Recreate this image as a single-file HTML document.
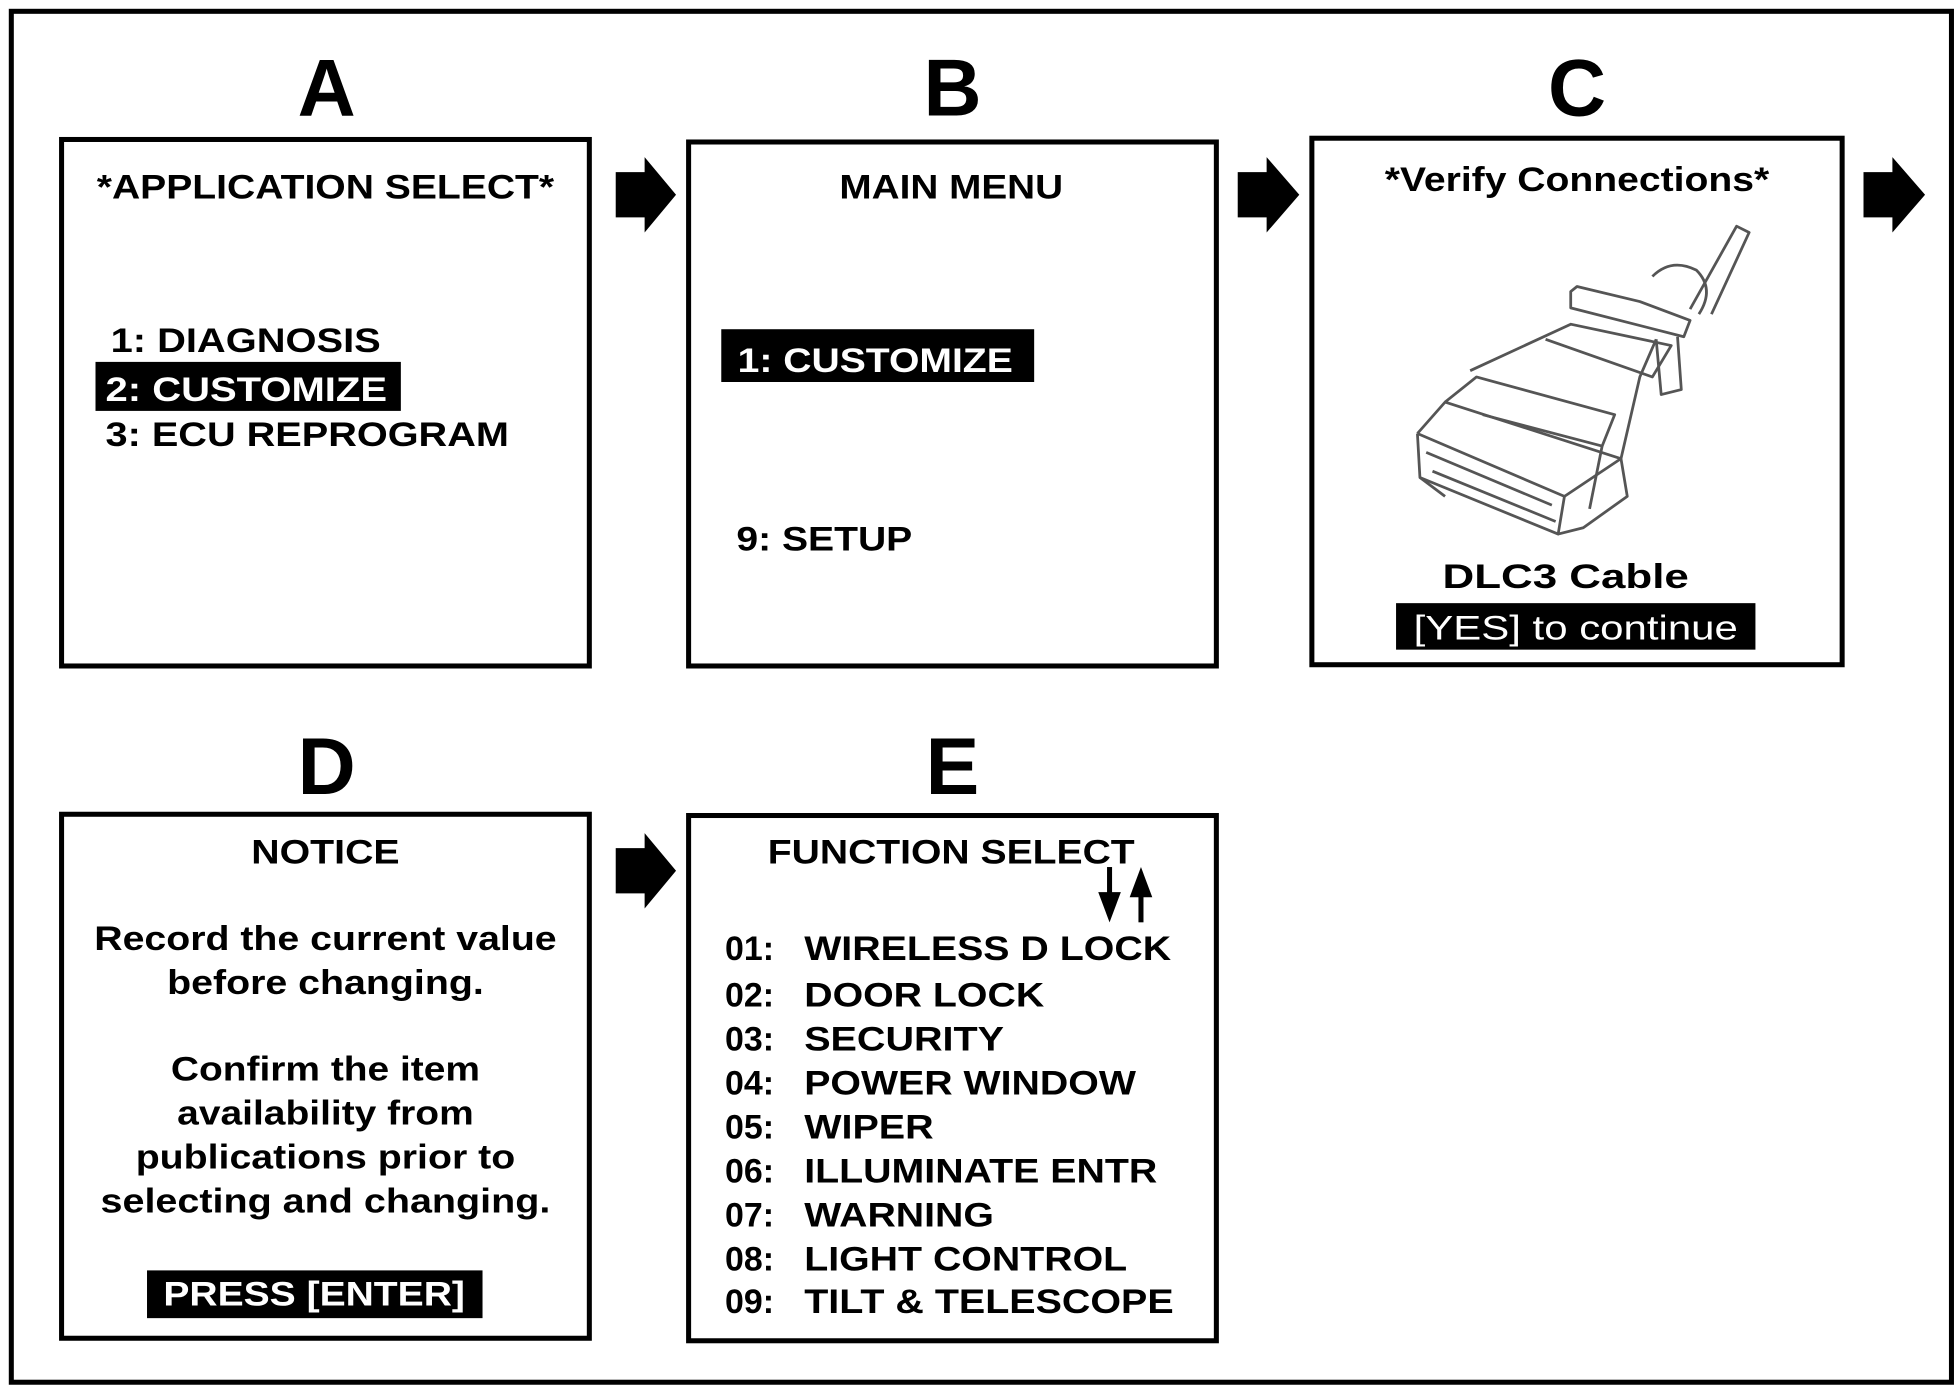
<!DOCTYPE html>
<html><head><meta charset="utf-8"><style>
html,body{margin:0;padding:0;background:#fff}
svg{display:block}
text{font-family:"Liberation Sans",Arial,sans-serif;font-weight:bold;fill:#000}
</style></head><body>
<svg width="1959" height="1386" viewBox="0 0 1559 1103" preserveAspectRatio="none" xmlns="http://www.w3.org/2000/svg">
<rect x="0" y="0" width="1559" height="1103" fill="#fff"/>
<rect x="9" y="9" width="1544" height="1091" fill="none" stroke="#000" stroke-width="4"/>
<g font-size="64">
<text x="260" y="92" text-anchor="middle">A</text>
<text x="758" y="92" text-anchor="middle">B</text>
<text x="1255" y="92" text-anchor="middle">C</text>
<text x="260" y="632" text-anchor="middle">D</text>
<text x="758" y="632" text-anchor="middle">E</text>
</g>
<g fill="none" stroke="#000" stroke-width="4">
<rect x="49" y="111" width="420" height="419"/>
<rect x="548" y="113" width="420" height="417"/>
<rect x="1044" y="110" width="422" height="419"/>
<rect x="49" y="648" width="420" height="417"/>
<rect x="548" y="649" width="420" height="418"/>
</g>
<g fill="#000">
<polygon points="490,137 513,137 513,125 538,155 513,185 513,173 490,173"/>
<polygon points="985,137 1008,137 1008,125 1034,155 1008,185 1008,173 985,173"/>
<polygon points="1483,137 1506,137 1506,125 1532,155 1506,185 1506,173 1483,173"/>
<polygon points="490,675 513,675 513,663 538,693 513,723 513,711 490,711"/>
</g>
<g font-size="27">
<text x="259" y="158" text-anchor="middle" textLength="364" lengthAdjust="spacingAndGlyphs">*APPLICATION SELECT*</text>
<text x="88" y="280" textLength="215" lengthAdjust="spacingAndGlyphs">1:  DIAGNOSIS</text>
<rect x="76" y="288" width="243" height="39" fill="#000"/>
<text x="84" y="319" fill="#fff" style="fill:#fff" textLength="224" lengthAdjust="spacingAndGlyphs">2:  CUSTOMIZE</text>
<text x="84" y="355" textLength="321" lengthAdjust="spacingAndGlyphs">3:  ECU REPROGRAM</text>

<text x="757" y="158" text-anchor="middle" textLength="178" lengthAdjust="spacingAndGlyphs">MAIN MENU</text>
<rect x="574" y="262" width="249" height="42" fill="#000"/>
<text x="587" y="296" style="fill:#fff" textLength="219" lengthAdjust="spacingAndGlyphs">1: CUSTOMIZE</text>
<text x="586" y="438" textLength="140" lengthAdjust="spacingAndGlyphs">9: SETUP</text>

<text x="1255" y="152" text-anchor="middle" textLength="306" lengthAdjust="spacingAndGlyphs">*Verify Connections*</text>
<text x="1246" y="468" text-anchor="middle" textLength="196" lengthAdjust="spacingAndGlyphs">DLC3 Cable</text>
<rect x="1111" y="480" width="286" height="37" fill="#000"/>
<text x="1254" y="509" text-anchor="middle" style="fill:#fff;font-weight:normal" textLength="258" lengthAdjust="spacingAndGlyphs">[YES] to continue</text>

<text x="259" y="687" text-anchor="middle" textLength="118" lengthAdjust="spacingAndGlyphs">NOTICE</text>
<text x="259" y="756" text-anchor="middle" textLength="368" lengthAdjust="spacingAndGlyphs">Record the current value</text>
<text x="259" y="791" text-anchor="middle" textLength="252" lengthAdjust="spacingAndGlyphs">before changing.</text>
<text x="259" y="860" text-anchor="middle" textLength="246" lengthAdjust="spacingAndGlyphs">Confirm the item</text>
<text x="259" y="895" text-anchor="middle" textLength="236" lengthAdjust="spacingAndGlyphs">availability from</text>
<text x="259" y="930" text-anchor="middle" textLength="302" lengthAdjust="spacingAndGlyphs">publications prior to</text>
<text x="259" y="965" text-anchor="middle" textLength="358" lengthAdjust="spacingAndGlyphs">selecting and changing.</text>
<rect x="117" y="1011" width="267" height="38" fill="#000"/>
<text x="250" y="1039" text-anchor="middle" style="fill:#fff" textLength="240" lengthAdjust="spacingAndGlyphs">PRESS [ENTER]</text>

<text x="757" y="687" text-anchor="middle" textLength="292" lengthAdjust="spacingAndGlyphs">FUNCTION SELECT</text>
<g>
<text x="577" y="764">01:</text><text x="640" y="764" textLength="292" lengthAdjust="spacingAndGlyphs">WIRELESS D LOCK</text>
<text x="577" y="801">02:</text><text x="640" y="801" textLength="191" lengthAdjust="spacingAndGlyphs">DOOR LOCK</text>
<text x="577" y="836">03:</text><text x="640" y="836" textLength="159" lengthAdjust="spacingAndGlyphs">SECURITY</text>
<text x="577" y="871">04:</text><text x="640" y="871" textLength="264" lengthAdjust="spacingAndGlyphs">POWER WINDOW</text>
<text x="577" y="906">05:</text><text x="640" y="906" textLength="103" lengthAdjust="spacingAndGlyphs">WIPER</text>
<text x="577" y="941">06:</text><text x="640" y="941" textLength="281" lengthAdjust="spacingAndGlyphs">ILLUMINATE ENTR</text>
<text x="577" y="976">07:</text><text x="640" y="976" textLength="151" lengthAdjust="spacingAndGlyphs">WARNING</text>
<text x="577" y="1011">08:</text><text x="640" y="1011" textLength="257" lengthAdjust="spacingAndGlyphs">LIGHT CONTROL</text>
<text x="577" y="1045">09:</text><text x="640" y="1045" textLength="294" lengthAdjust="spacingAndGlyphs">TILT &amp; TELESCOPE</text>
</g>
</g>
<g fill="#000">
<rect x="881" y="690" width="4" height="24"/>
<polygon points="874,710 892,710 883,734"/>
<rect x="906" y="708" width="4" height="26"/>
<polygon points="899,714 917,714 908,690"/>
</g>
<!-- connector sketch -->
<g fill="none" stroke="#555" stroke-width="2.2" stroke-linejoin="round">
<path d="M1345,246 L1382,180 L1392,185 L1362,250"/>
<path d="M1315,220 Q1330,205 1350,215 Q1365,230 1352,250"/>
<path d="M1250,232 L1255,228 L1305,240 L1345,255 L1340,268 L1250,245 Z"/>
<path d="M1335,268 L1338,310 L1322,314 L1318,270"/>
<path d="M1170,295 L1250,258 L1330,275 L1315,300 L1230,270"/>
<path d="M1150,320 L1175,300 L1285,330 L1275,355 L1180,330"/>
<path d="M1128,345 L1150,320 L1290,365 L1305,300 L1318,270"/>
<path d="M1128,345 L1130,380 L1240,425 L1245,395 L1128,345"/>
<path d="M1135,360 L1235,402"/>
<path d="M1140,375 L1238,415"/>
<path d="M1245,395 L1290,365 L1295,395 L1260,420 L1240,425"/>
<path d="M1275,355 L1265,405"/>
<path d="M1130,380 L1150,395"/>
</g>
</svg>
</body></html>
